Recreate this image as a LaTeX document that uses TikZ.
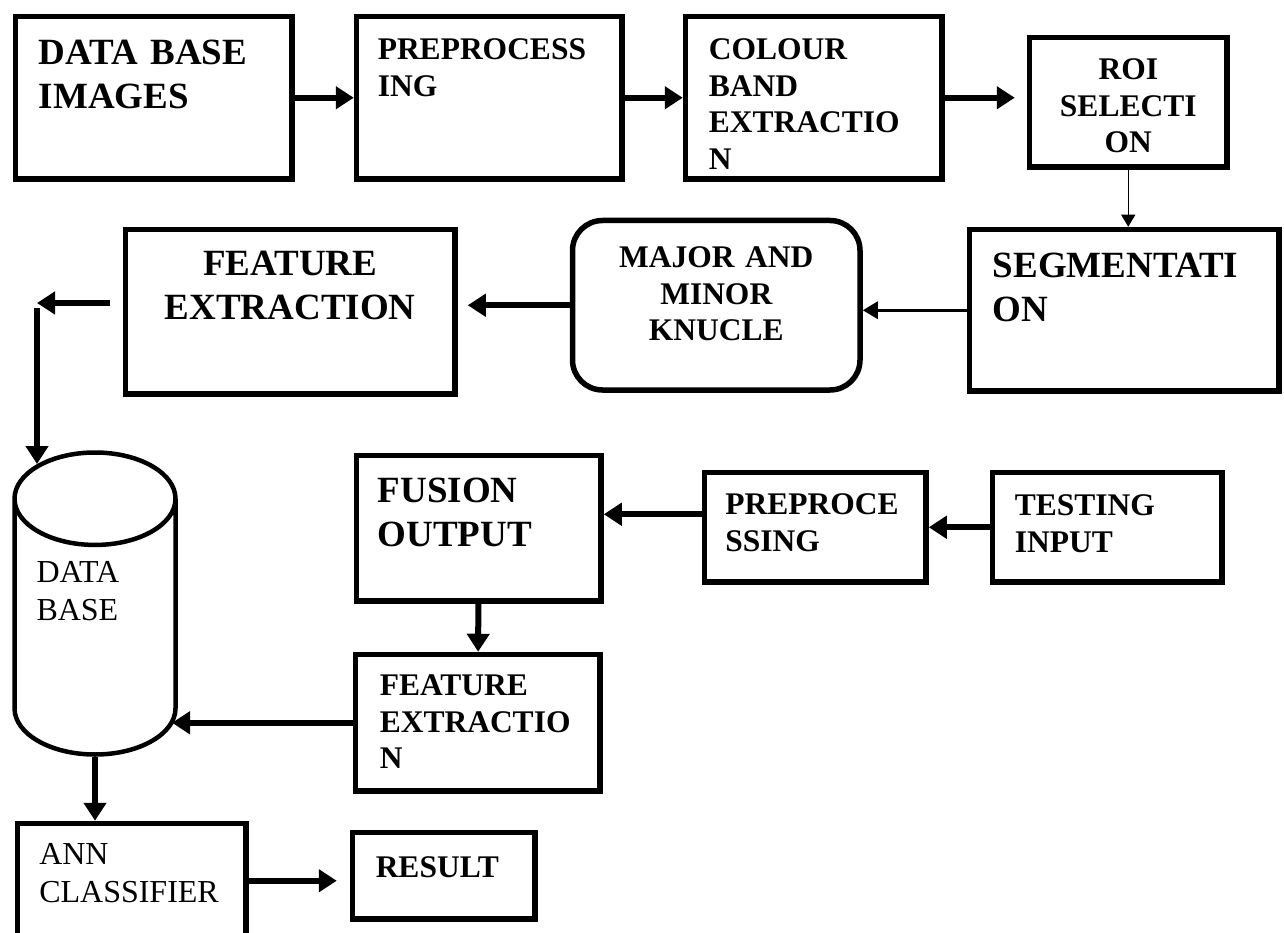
\documentclass[tikz,border=0pt]{standalone}
\usepackage{fontspec}
\setmainfont{Liberation Serif}
\usepackage{tikz}
\usetikzlibrary{arrows.meta,shapes.geometric,positioning}
\newcommand{\lgfont}{\fontsize{37}{44}\selectfont\bfseries}
\newcommand{\mdfont}{\fontsize{31.5}{36.5}\selectfont\bfseries}
\newcommand{\rgfont}{\fontsize{32}{37.5}\selectfont}
\tikzstyle{arrow} = [line width=6pt,-{Triangle[length=18pt,width=22pt]}]
\tikzstyle{midarrow} = [line width=3pt,-{Triangle[length=15pt,width=17pt]}]
\tikzstyle{thinarrow} = [line width=1.3pt,-{Triangle[length=12pt,width=14pt]}]
\tikzstyle{blk} = [draw, line width=5.5pt, inner ysep=0pt, anchor=north west, align=left, font=\mdfont]

\begin{document}
\begin{tikzpicture}[x=1pt,y=-1pt]
\useasboundingbox (0,0) rectangle (1284,933);

% top row
\node[blk, font=\lgfont, inner xsep=23.25pt, text width=230pt, text height=48.25pt, text depth=114.25pt] (dbimg) at (12.75,13.75) {DATA BASE\\IMAGES};
\node[blk, inner xsep=21.25pt, text width=223pt, text height=43.25pt, text depth=119.25pt] (prep) at (353.75,13.75) {PREPROCESS\\ING};
\node[blk, inner xsep=23.25pt, text width=210pt, text height=43.25pt, text depth=119.25pt] (colour) at (682.75,13.75) {COLOUR\\BAND\\EXTRACTIO\\N};
\node[blk, align=center, inner xsep=10pt, text width=177.5pt, text height=42.25pt, text depth=87.25pt] (roi) at (1026.75,34.75) {ROI\\SELECTI\\ON};

% second row
\node[blk, font=\lgfont, inner xsep=23.25pt, text width=263pt, text height=48.25pt, text depth=113.25pt] (seg) at (966.75,226.75) {SEGMENTATI\\ON};
\node[blk, rounded corners=30pt, align=center, inner xsep=10pt, text width=267.5pt, text height=47.25pt, text depth=122.25pt] (knuckle) at (569.75,217.75) {MAJOR AND\\MINOR\\KNUCLE};
\node[blk, font=\lgfont, align=center, inner xsep=10pt, text width=309.5pt, text height=46.25pt, text depth=118.25pt] (feat) at (122.75,226.75) {FEATURE\\EXTRACTION};

% data base
\node[cylinder, shape border rotate=90, draw, line width=4.5pt, minimum width=161pt, minimum height=302pt, aspect=0.79, inner sep=0pt, anchor=shape center, text width=117pt, align=left, font=\rgfont, text height=22pt, text depth=112pt] (db) at (95,603.5) {DATA\\BASE};

% testing path
\node[blk, font=\lgfont, inner xsep=21.25pt, text width=202pt, text height=47.25pt, text depth=98.25pt] (fusion) at (353.75,452.75) {FUSION\\OUTPUT};
\node[blk, inner xsep=20.75pt, text width=180pt, text height=42.25pt, text depth=67.25pt] (prep2) at (701.75,469.75) {PREPROCE\\SSING};
\node[blk, inner xsep=22.25pt, text width=185pt, text height=43.25pt, text depth=66.25pt] (test) at (989.75,469.75) {TESTING\\INPUT};
\node[blk, inner xsep=24.25pt, text width=196pt, text height=41.25pt, text depth=95.25pt] (feat2) at (352.75,651.75) {FEATURE\\EXTRACTIO\\N};

% bottom row
\node[blk, font=\rgfont, inner xsep=21.75pt, text width=185pt, text height=41.25pt, text depth=98pt] (ann) at (14.75,820.75) {ANN\\CLASSIFIER};
\node[blk, inner xsep=23.25pt, text width=136pt, text height=45.25pt, text depth=41.25pt] (result) at (349.75,829.75) {RESULT};

\coordinate (bend) at (37,303);
\coordinate (dbin) at (37,464);
\coordinate (dbr) at (172,720);
\coordinate (restip) at ([yshift=-5pt]result.west);

\draw[arrow] (dbimg) -- (prep);
\draw[arrow] (prep) -- (colour);
\draw[arrow, shorten >=12pt] (colour.east) -- (colour.east -| roi.west);
\draw[thinarrow] (roi.south) -- (roi.south |- seg.north);
\draw[midarrow] (seg.west) -- (seg.west -| knuckle.east);
\draw[arrow, shorten >=10pt] (knuckle.west) -- (knuckle.west -| feat.east);
\draw[arrow, shorten <=13pt] (feat.west |- bend) -- (bend);
\draw[arrow] ([yshift=-5pt]bend) -- (dbin);
\draw[arrow] (test) -- (prep2);
\draw[arrow] ([yshift=13pt]prep2.west) -- ([yshift=13pt]prep2.west -| fusion.east);
\draw[arrow] (fusion) -- (feat2);
\draw[arrow] (feat2.west) -- (feat2.west -| dbr);
\draw[arrow] (db.south) -- (db.south |- ann.north);
\draw[arrow, shorten >=13pt] (restip -| ann.east) -- (restip);
\end{tikzpicture}
\end{document}
